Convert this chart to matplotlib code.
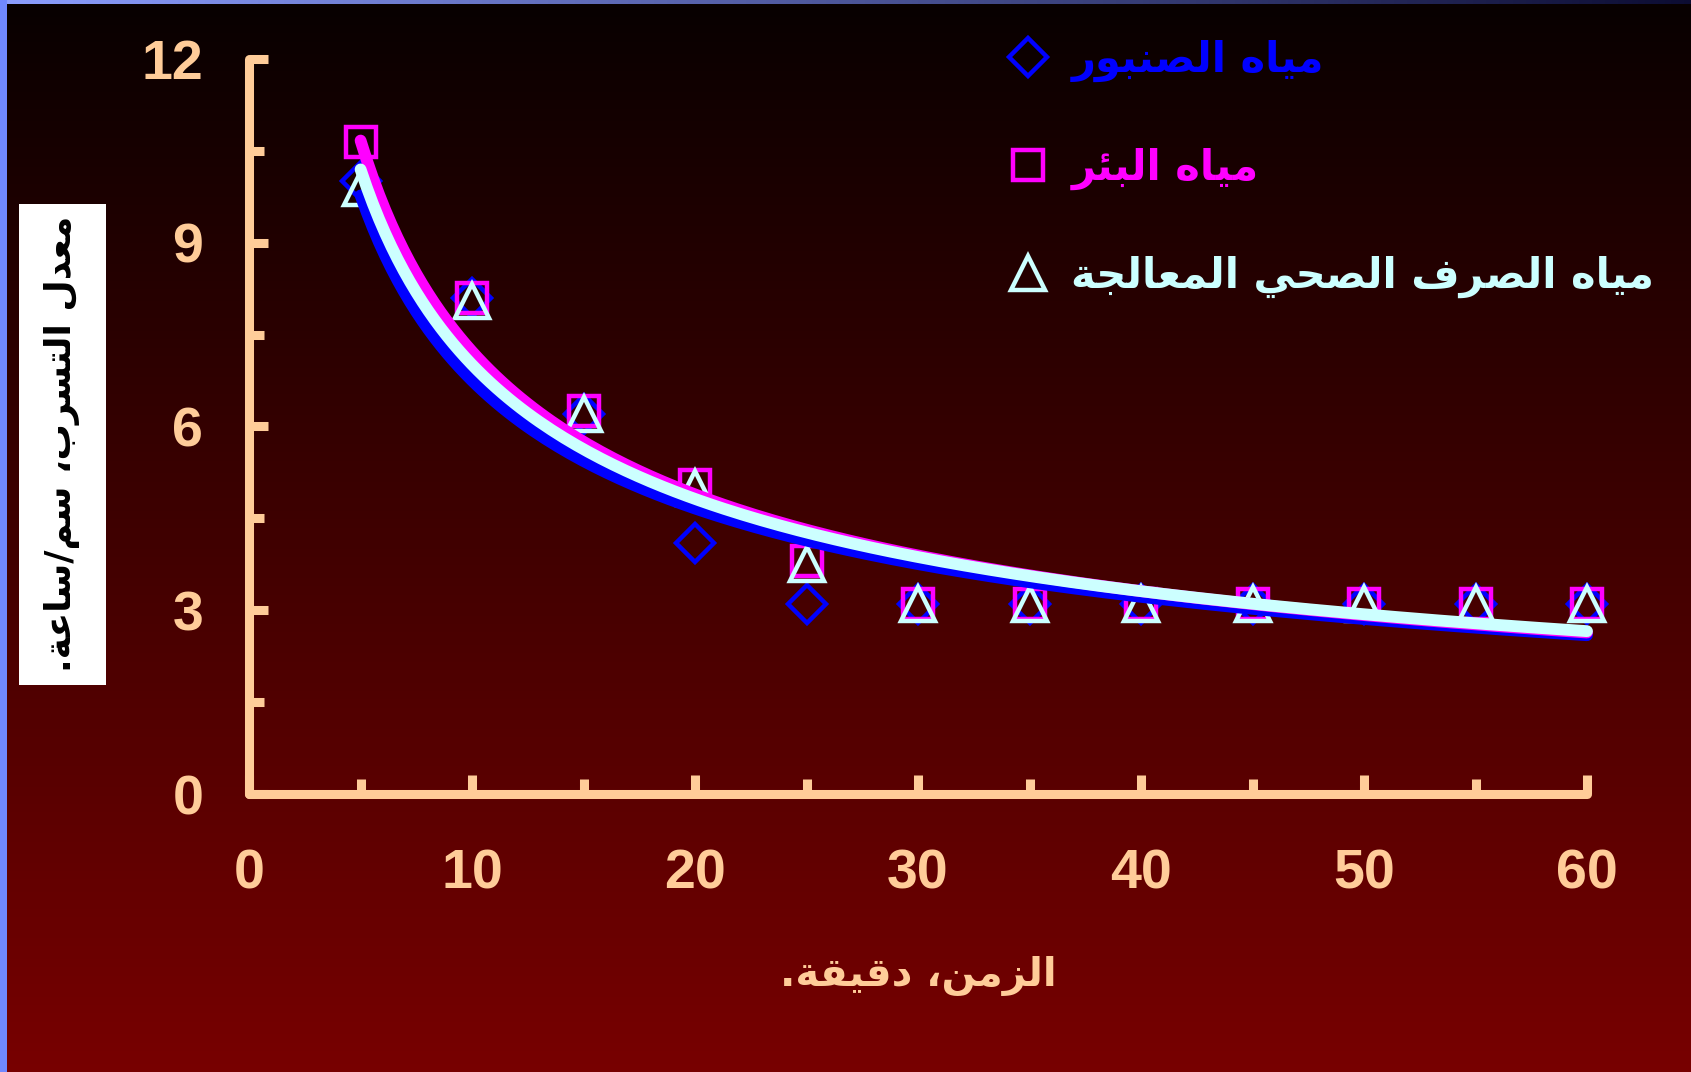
import matplotlib
matplotlib.use("Agg")
import matplotlib.pyplot as plt
import numpy as np
from matplotlib.lines import Line2D
from matplotlib.patches import Rectangle
from matplotlib.ticker import MultipleLocator

# infiltration measurements, three water types
time_min = [5, 10, 15, 20, 25, 30, 35, 40, 45, 50, 55, 60]
tap_water = [10.0, 8.1, 6.2, 4.1, 3.1, 3.1, 3.1, 3.1, 3.1, 3.1, 3.1, 3.1]
well_water = [10.65, 8.1, 6.25, 5.05, 3.8, 3.1, 3.1, 3.1, 3.1, 3.1, 3.1, 3.1]
treated_water = [9.9, 8.05, 6.2, 5.0, 3.75, 3.1, 3.1, 3.1, 3.1, 3.1, 3.1, 3.1]

series_names = ["مياه الصنبور", "مياه البئر", "مياه الصرف الصحي المعالجة"]
x_title = "الزمن، دقيقة."
y_title = "معدل التسرب، سم/ساعة."

x_ticks = [0, 10, 20, 30, 40, 50, 60]
y_ticks = [0, 3, 6, 9, 12]

# --- minimal arabic shaping (matplotlib has no complex text layout) ---
# letter: (isolated, final, initial, medial)
FORMS = {
    "ء": (0xFE80, None, None, None),
    "آ": (0xFE81, 0xFE82, None, None),
    "أ": (0xFE83, 0xFE84, None, None),
    "ؤ": (0xFE85, 0xFE86, None, None),
    "إ": (0xFE87, 0xFE88, None, None),
    "ئ": (0xFE89, 0xFE8A, 0xFE8B, 0xFE8C),
    "ا": (0xFE8D, 0xFE8E, None, None),
    "ب": (0xFE8F, 0xFE90, 0xFE91, 0xFE92),
    "ة": (0xFE93, 0xFE94, None, None),
    "ت": (0xFE95, 0xFE96, 0xFE97, 0xFE98),
    "ث": (0xFE99, 0xFE9A, 0xFE9B, 0xFE9C),
    "ج": (0xFE9D, 0xFE9E, 0xFE9F, 0xFEA0),
    "ح": (0xFEA1, 0xFEA2, 0xFEA3, 0xFEA4),
    "خ": (0xFEA5, 0xFEA6, 0xFEA7, 0xFEA8),
    "د": (0xFEA9, 0xFEAA, None, None),
    "ذ": (0xFEAB, 0xFEAC, None, None),
    "ر": (0xFEAD, 0xFEAE, None, None),
    "ز": (0xFEAF, 0xFEB0, None, None),
    "س": (0xFEB1, 0xFEB2, 0xFEB3, 0xFEB4),
    "ش": (0xFEB5, 0xFEB6, 0xFEB7, 0xFEB8),
    "ص": (0xFEB9, 0xFEBA, 0xFEBB, 0xFEBC),
    "ض": (0xFEBD, 0xFEBE, 0xFEBF, 0xFEC0),
    "ط": (0xFEC1, 0xFEC2, 0xFEC3, 0xFEC4),
    "ظ": (0xFEC5, 0xFEC6, 0xFEC7, 0xFEC8),
    "ع": (0xFEC9, 0xFECA, 0xFECB, 0xFECC),
    "غ": (0xFECD, 0xFECE, 0xFECF, 0xFED0),
    "ف": (0xFED1, 0xFED2, 0xFED3, 0xFED4),
    "ق": (0xFED5, 0xFED6, 0xFED7, 0xFED8),
    "ك": (0xFED9, 0xFEDA, 0xFEDB, 0xFEDC),
    "ل": (0xFEDD, 0xFEDE, 0xFEDF, 0xFEE0),
    "م": (0xFEE1, 0xFEE2, 0xFEE3, 0xFEE4),
    "ن": (0xFEE5, 0xFEE6, 0xFEE7, 0xFEE8),
    "ه": (0xFEE9, 0xFEEA, 0xFEEB, 0xFEEC),
    "و": (0xFEED, 0xFEEE, None, None),
    "ى": (0xFEEF, 0xFEF0, None, None),
    "ي": (0xFEF1, 0xFEF2, 0xFEF3, 0xFEF4),
}


def shape(text):
    out = []
    for i, ch in enumerate(text):
        if ch not in FORMS:
            out.append(ch)
            continue
        prev = text[i - 1] if i > 0 else ""
        nxt = text[i + 1] if i + 1 < len(text) else ""
        iso, fin, ini, med = FORMS[ch]
        join_prev = prev in FORMS and FORMS[prev][2] is not None and fin is not None
        join_next = ini is not None and nxt in FORMS and FORMS[nxt][1] is not None
        if join_prev and join_next:
            code = med
        elif join_prev:
            code = fin
        elif join_next:
            code = ini
        else:
            code = iso
        out.append(chr(code))
    return "".join(out)[::-1]


peach = "#FFCC99"
colors = ["#0000FF", "#FF00FF", "#CCFFFF"]
markers = ["D", "s", "^"]
msizes = [19, 21, 24]

fig = plt.figure(figsize=(16.91, 10.72), dpi=100)

# slide background: black to dark red, with a blue frame on the top/left
bg = fig.add_axes([0, 0, 1, 1], zorder=-10)
grad = np.linspace(0, 1, 256)[:, None]
top = np.array([0.03, 0.0, 0.0])
bottom = np.array([0.47, 0.0, 0.0])
img = top + grad[..., None] * (bottom - top)
bg.imshow(np.repeat(img, 2, axis=1), aspect="auto", extent=[0, 1, 0, 1])
bg.add_patch(Rectangle((0, 0), 7 / 1691, 1, color="#7088ff", lw=0))
strip = np.linspace(0, 1, 256)[None, :, None]
left_c = np.array([0.55, 0.62, 1.0])
right_c = np.array([0.05, 0.05, 0.2])
bg.imshow(left_c + strip * (right_c - left_c), aspect="auto",
          extent=[0, 1, 1 - 4 / 1072, 1])
bg.set_xlim(0, 1)
bg.set_ylim(0, 1)
bg.axis("off")

ax = fig.add_axes([0.1473, 0.2593, 0.7912, 0.6857])
ax.set_facecolor("none")

x = np.array(time_min, dtype=float)
xs = np.linspace(5, 60, 200)
series = [tap_water, well_water, treated_water]
for vals, c, m, ms, z in zip(series, colors, markers, msizes, [3, 4, 5]):
    ax.plot(x, vals, linestyle="none", marker=m, ms=ms, mfc="none", mec=c,
            mew=3.2, clip_on=False, zorder=z)
for vals, c, z in zip(series, colors, [6, 7, 8]):
    # power trendline
    b, a = np.polyfit(np.log(x), np.log(vals), 1)
    ax.plot(xs, np.exp(a) * xs ** b, color=c, lw=8.5, solid_capstyle="round",
            clip_on=False, zorder=z)

ax.set_xlim(0, 60)
ax.set_ylim(0, 12)
ax.set_xticks(x_ticks)
ax.set_yticks(y_ticks)
ax.xaxis.set_minor_locator(MultipleLocator(5))
ax.yaxis.set_minor_locator(MultipleLocator(1.5))
for s in ["top", "right"]:
    ax.spines[s].set_visible(False)
for s in ["left", "bottom"]:
    ax.spines[s].set_color(peach)
    ax.spines[s].set_linewidth(6.5)
    ax.spines[s].set_capstyle("round")
ax.tick_params(which="both", direction="in", color=peach, width=6.5)
ax.tick_params(which="major", length=14)
ax.tick_params(which="minor", length=11)
ax.tick_params(axis="x", which="major", pad=39)
ax.tick_params(axis="y", which="major", pad=33)
for lab in ax.get_xticklabels() + ax.get_yticklabels():
    lab.set_color(peach)
    lab.set_fontsize(40)
    lab.set_fontweight("bold")
    lab.set_fontfamily("Liberation Sans")

ax.set_xlabel(shape(x_title), color=peach, fontsize=29, fontweight="bold",
              family="DejaVu Sans", labelpad=40)

# y title in a white box
fig.patches.append(Rectangle((19 / 1691, 1 - 685 / 1072), 87 / 1691, 481 / 1072,
                             transform=fig.transFigure, color="white", lw=0, zorder=2))
fig.text(62 / 1691, 1 - 444 / 1072, shape(y_title), rotation=90, ha="center",
         va="center", fontsize=26, fontweight="bold", family="DejaVu Sans",
         color="black", zorder=3)

handles = [Line2D([], [], linestyle="none", marker=m, ms=ms, mfc="none", mec=c,
                  mew=3.2) for m, ms, c in zip(markers, msizes, colors)]
leg = ax.legend(handles, [shape(n) for n in series_names], loc="upper left",
                bbox_to_anchor=(0.583, 0.983), bbox_transform=fig.transFigure,
                frameon=False, handlelength=1.0, handletextpad=0.55,
                labelspacing=1.55, borderpad=0,
                prop={"family": "DejaVu Sans", "weight": "bold", "size": 30})
for t, c in zip(leg.get_texts(), colors):
    t.set_color(c)

fig.savefig("out.png", dpi=100)
